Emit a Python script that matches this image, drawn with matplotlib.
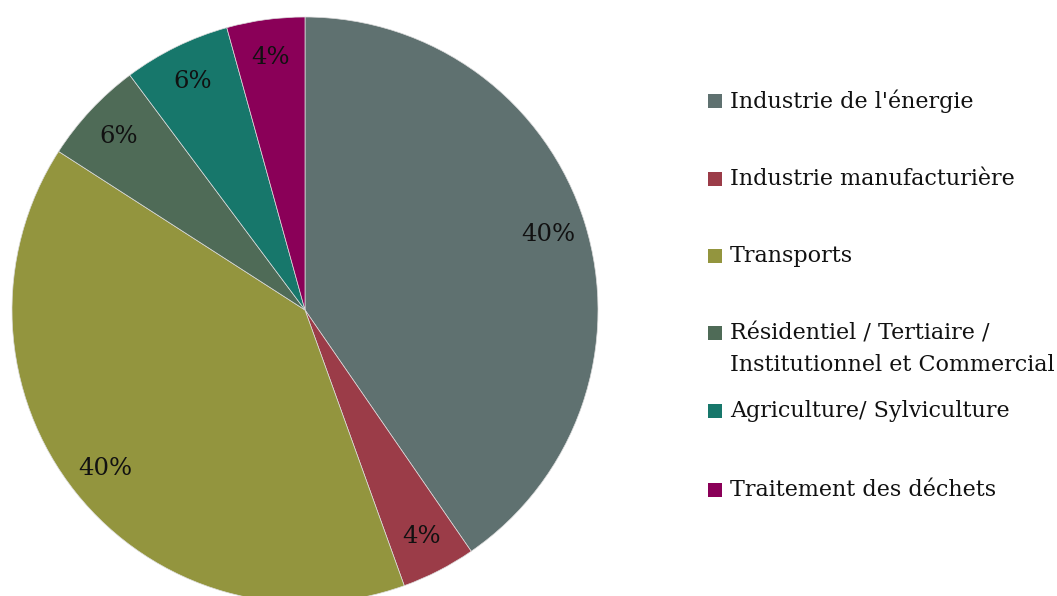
import matplotlib
matplotlib.use('Agg')
import matplotlib.pyplot as plt

# emission shares by sector
sectors = ["Industrie de l'énergie", "Industrie manufacturière", "Transports",
           "Résidentiel / Tertiaire /\nInstitutionnel et Commercial",
           "Agriculture/ Sylviculture", "Traitement des déchets"]
shares = [40.4, 4.1, 39.6, 5.7, 5.9, 4.3]
colors = ['#5f7170', '#9b3c48', '#93953e', '#4f6b57', '#17776b', '#8a0058']

W, H = 1057, 596
plt.rcParams['font.family'] = ['DejaVu Serif']

fig = plt.figure(figsize=(W / 100, H / 100), dpi=100)
ax = fig.add_axes([0, 0, 1, 1])
ax.axis('off')

wedges, texts, autotexts = ax.pie(
    shares, colors=colors, center=(305, H - 310), radius=293,
    startangle=90, counterclock=False, autopct='%.0f%%', pctdistance=0.87,
    wedgeprops={'linewidth': 0.5, 'edgecolor': '#dddddd'},
    textprops={'fontsize': 17.5, 'color': '#111111'})
ax.set_xlim(0, W)
ax.set_ylim(0, H)
ax.set_aspect('equal')

# legend, placed by hand like the office chart
legend_y = [101, 179, 256, 333, 411, 490]
for label, col, y in zip(sectors, colors, legend_y):
    ax.add_patch(plt.Rectangle((708, H - y - 7), 14, 14, color=col, lw=0))
    for i, line in enumerate(label.split('\n')):
        ax.text(730, H - y - i * 32, line, fontsize=16, va='center', ha='left', color='#111111')

fig.savefig('out.png', dpi=100)
